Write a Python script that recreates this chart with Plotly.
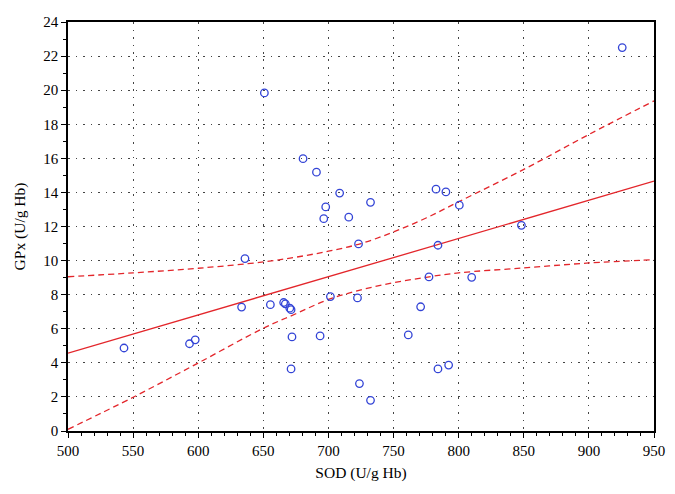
import plotly.graph_objects as go

# observed points
sod = [543, 593.3, 597.7, 633.3, 635.9, 650.8, 655.4, 665.6, 666.9, 670.3,
       671.3, 671.3, 672, 680.5, 690.8, 693.6, 696.4, 697.9, 701.5, 708.6,
       715.6, 722.3, 723.1, 723.8, 732.3, 732.3, 761.3, 770.8, 777.2, 782.6,
       784.1, 784.1, 790.2, 792.3, 800.5, 810, 848.2, 925.6]
gpx = [4.87, 5.12, 5.35, 7.27, 10.12, 19.84, 7.41, 7.54, 7.46, 7.21,
       7.12, 3.64, 5.52, 15.98, 15.19, 5.58, 12.46, 13.15, 7.89, 13.96,
       12.55, 7.81, 10.98, 2.78, 13.42, 1.8, 5.64, 7.29, 9.04, 14.19,
       10.9, 3.64, 14.03, 3.87, 13.25, 9.02, 12.07, 22.5]

# regression line and confidence band
fit_x = [500, 950]
fit_y = [4.57, 14.66]
band_x = [500, 550, 600, 650, 675, 700, 725, 750, 775, 800, 850, 900, 950]
band_upper = [9.05, 9.28, 9.55, 9.92, 10.2, 10.55, 11.0, 11.68, 12.5, 13.45, 15.35, 17.4, 19.37]
band_lower = [0.1, 1.98, 3.99, 6.03, 6.88, 7.72, 8.28, 8.70, 9.02, 9.28, 9.57, 9.86, 10.05]

red = "#e3262b"
font = "Liberation Serif, Times New Roman, DejaVu Serif, serif"

fig = go.Figure()
fig.add_trace(go.Scatter(x=band_x, y=band_upper, mode="lines", line_shape="spline",
                         line=dict(color=red, width=1.3, dash="6px,4px")))
fig.add_trace(go.Scatter(x=band_x, y=band_lower, mode="lines", line_shape="spline",
                         line=dict(color=red, width=1.3, dash="6px,4px")))
fig.add_trace(go.Scatter(x=fit_x, y=fit_y, mode="lines",
                         line=dict(color=red, width=1.3)))
fig.add_trace(go.Scatter(x=sod, y=gpx, mode="markers",
                         marker=dict(symbol="circle-open", size=7.5, color="#3344d6",
                                     line=dict(width=1.3))))

axis_common = dict(
    showline=True, linecolor="black", linewidth=1.5, mirror=True,
    ticks="outside", ticklen=5, tickcolor="black", tickwidth=1,
    showgrid=True, gridcolor="#444444", gridwidth=1, griddash="1.5px,6px",
    zeroline=False, tickfont=dict(family=font, size=15, color="black"),
)

fig.update_xaxes(range=[500, 950], dtick=50,
                 minor=dict(dtick=10, ticks="outside", ticklen=3, tickcolor="black", showgrid=False),
                 title=dict(text="SOD (U/g Hb)", font=dict(family=font, size=15.5, color="black"),
                            standoff=9),
                 **axis_common)
fig.update_yaxes(range=[0, 24], dtick=2,
                 minor=dict(dtick=1, ticks="outside", ticklen=3, tickcolor="black", showgrid=False),
                 title=dict(text="GPx (U/g Hb)", font=dict(family=font, size=15.5, color="black"),
                            standoff=14),
                 **axis_common)

# the page body adds an 8px offset, so the figure is sized to fit inside the window
fig.update_layout(width=667, height=486, showlegend=False,
                  margin=dict(l=60, r=21, t=6, b=63),
                  plot_bgcolor="white", paper_bgcolor="white")
fig.write_html("out.html")
